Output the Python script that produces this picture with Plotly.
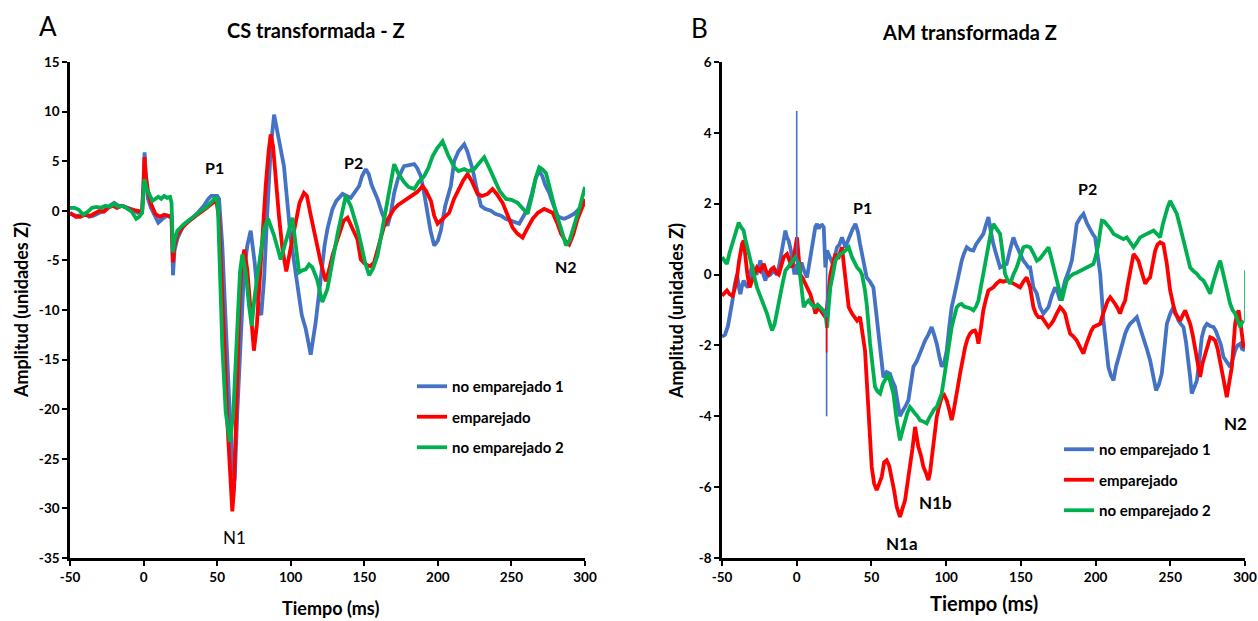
import plotly.graph_objects as go

# ---------------- Panel A: CS transformada - Z ----------------
a_blue_t = [-50, -46, -43, -40, -37, -34, -30, -27, -24, -20, -17, -14, -11, -7, -4, -1, 0, 0.7, 1.5, 3, 5, 7, 10, 13, 16, 19,
            20, 21, 23, 27, 31, 34, 38, 41, 44, 46, 50, 51.3, 53.5, 55.8, 58, 60.3, 61.9, 63.7, 66, 68.2, 70.5, 72.8,
            75.5, 78.5, 80, 81.9, 84.1, 86.5, 88.7, 91, 95.4, 100, 104.6, 107.5, 110.2, 113.6, 117, 120.4, 123, 125,
            128.4, 131, 135.2, 140.8, 143, 146.5, 148.5, 151, 153, 155, 159, 162, 165.8, 168, 170.3, 173, 177, 180,
            183.9, 186, 188.4, 191, 193, 195, 197.5, 200, 202, 205, 208.8, 211.1, 214, 217.9, 220, 223.6, 226, 229.3,
            232, 236, 239, 242.9, 246, 249.7, 252, 255.3, 258, 261, 264, 266.5, 268.9, 271, 273, 275.7, 278, 281.4,
            283.5, 285.9, 289, 292.7, 296, 300]
a_blue_v = [-0.3, -0.5, -0.5, -0.3, -0.6, -0.5, -0.2, 0.0, 0.4, 0.8, 0.5, 0.5, 0.3, 0.1, -0.2, 0.0, 3.0, 5.9, 3.5, 1.2, 0.3,
            -0.3, -1.2, -0.8, -0.5, -0.7, -6.5, -4.0, -2.8, -1.5, -1.0, -0.7, 0.0, 0.5, 1.2, 1.5, 1.5, 1.2, -3.5, -11.9,
            -18.6, -25.3, -27.2, -20.3, -11.9, -6.2, -3.5, -2.0, -5.2, -10.2, -10.5, -6.9, -0.1, 6.5, 9.7, 8.0, 4.5,
            -2.8, -7.6, -10.5, -11.9, -14.5, -11.2, -6.9, -3.5, -1.8, 0.2, 1.0, 1.7, 1.3, 1.8, 2.5, 3.5, 4.2, 3.7, 2.6,
            1.2, -0.2, -1.5, -0.3, 1.8, 3.3, 4.5, 4.6, 4.7, 4.3, 3.5, 1.5, -0.5, -2.0, -3.5, -3.0, -2.0, 0.5, 2.5, 5.0,
            6.0, 6.7, 6.0, 4.2, 2.5, 0.5, 0.2, 0.0, -0.3, -0.5, -0.8, -1.0, -1.2, -1.3, -0.6, 0.2, 1.8, 3.3, 4.0, 3.5,
            2.6, 1.8, 0.8, -0.5, -0.7, -0.8, -0.6, -0.3, 0.2, 0.7]

a_red_t = [-50, -46, -43, -40, -36, -33, -30, -27, -24, -21, -18, -15, -12, -8, -4, -1, 0, 0.6, 1.5, 3, 5, 8, 11, 14, 17, 19,
           20, 21, 23, 27, 31, 35, 39, 43, 47, 49.5, 51.3, 53, 55, 57, 59, 60.3, 61.5, 63, 65, 66.5, 68.5, 70.5, 72.5,
           75, 77, 79, 81, 83, 85, 86.4, 88, 90, 92, 94.5, 97, 99, 101.1, 103.4, 106, 109, 111, 113, 115.9, 118,
           120.4, 123.8, 126, 128.4, 131.7, 134, 136, 138.6, 141, 143.1, 145.4, 147.6, 150, 152.2, 154, 156.7, 160,
           163.5, 167, 170.3, 173, 177, 180, 183.9, 186, 189.6, 192, 195.3, 197.5, 199.8, 202, 204, 207.7, 211, 214.5,
           217, 220.2, 223, 227, 230, 233.8, 237.2, 240, 244, 247, 250.8, 254, 257.6, 260, 264.4, 268, 272.3, 275,
           278, 281, 283.7, 286.5, 289.3, 292, 295, 298, 300]
a_red_v = [-0.2, -0.6, -0.6, -0.4, -0.5, -0.3, 0.0, -0.1, 0.3, 0.5, 0.3, 0.5, 0.3, 0.1, 0.0, -0.1, 2.5, 5.4, 3.6, 2.0, 0.7,
           -0.3, -0.6, -0.4, -0.5, -0.6, -5.2, -3.5, -2.4, -1.6, -1.0, -0.6, -0.1, 0.3, 0.8, 1.0, -0.8, -6.0, -14.0,
           -21.5, -28.0, -30.3, -28.0, -20.0, -10.0, -5.5, -3.9, -6.0, -10.0, -14.1, -11.5, -6.5, -2.0, 2.5, 6.0, 7.7,
           6.5, 2.5, -0.5, -4.0, -6.1, -4.5, -2.9, -1.0, 0.8, 1.8, 1.5, 0.0, -1.8, -3.5, -5.2, -7.1, -6.0, -4.5, -2.9,
           -1.8, -1.0, -0.7, -1.5, -2.2, -2.9, -4.9, -5.3, -5.5, -5.6, -5.2, -3.5, -1.5, -0.6, 0.2, 0.6, 1.0, 1.2,
           1.7, 1.9, 2.5, 2.0, 1.0, -0.5, -1.3, -1.0, -0.6, -0.2, 1.2, 2.2, 3.0, 3.7, 3.0, 1.7, 1.5, 1.7, 2.2, 1.7,
           0.8, -0.3, -1.7, -2.3, -2.7, -2.0, -0.8, -0.2, 0.2, 0.0, -0.2, -1.2, -2.3, -3.0, -3.4, -2.4, -0.8, 0.3, 1.2]

a_green_t = [-50, -47, -44, -41, -38, -35, -32, -29, -26, -23, -20, -17, -14, -11, -8, -5, -3, -1, 0, 0.6, 2, 4, 6, 8, 10,
             12, 14, 16, 18, 19, 20, 21, 23, 27, 31, 35, 39, 43, 47, 49.5, 50.5, 51.9, 53.5, 55.8, 58.7, 61, 63.3,
             65.5, 67.1, 69.4, 71.7, 73.5, 75.5, 78.5, 81.9, 84.6, 88.7, 93.2, 95.5, 97.8, 101.1, 103.5, 105.7, 108,
             110.2, 112.5, 114.7, 117.9, 121.5, 124.9, 127, 129.5, 132, 134, 137.4, 140.8, 143, 145.4, 148, 150.5,
             153.3, 156, 159, 162, 164.6, 167.5, 170.3, 173, 177, 180, 183.9, 187, 190.7, 193.5, 196.4, 199.5, 203.2,
             207, 211.1, 214, 217.9, 221, 224.7, 228, 231.5, 235, 238.3, 242, 246.3, 250, 254.2, 257, 261, 264, 266.5,
             268.9, 271, 273.5, 276.5, 280.3, 283.5, 287.1, 289.5, 292.7, 296.5, 300]
a_green_v = [0.3, 0.3, 0.1, -0.4, -0.1, 0.3, 0.4, 0.3, 0.5, 0.4, 0.7, 0.4, 0.5, 0.2, -0.1, -0.8, -0.6, -0.2, 1.5, 3.2, 2.3,
             1.6, 1.0, 1.2, 1.4, 1.2, 1.5, 1.3, 1.4, 0.8, -4.2, -3.0, -2.0, -1.4, -0.9, -0.5, 0.0, 0.4, 1.0, 1.4, 0.5,
             -5.2, -13.6, -20.3, -23.3, -20.3, -11.9, -6.2, -4.4, -6.2, -9.6, -11.6, -8.6, -5.2, -1.8, -0.8, -2.5,
             -4.9, -3.8, -2.5, -0.7, -3.5, -6.2, -6.0, -5.9, -5.4, -5.7, -6.9, -9.2, -7.9, -6.0, -4.2, -2.2, -0.8, 1.5,
             0.5, -0.6, -1.8, -3.5, -5.2, -6.5, -5.8, -4.5, -2.0, 0.2, 2.5, 4.7, 3.8, 2.9, 2.4, 2.2, 2.9, 3.5, 4.3,
             5.5, 6.3, 7.0, 5.6, 4.4, 4.0, 4.2, 4.0, 4.2, 4.8, 5.4, 4.3, 3.2, 2.0, 1.2, 1.1, 0.8, 0.3, -0.3, 1.5, 3.3,
             4.4, 4.2, 3.8, 2.0, -0.2, -1.7, -3.5, -3.0, -1.5, 0.4, 2.4]

# ---------------- Panel B: AM transformada Z ----------------
b_blue_t = [-50, -48, -46, -44.5, -43, -41.5, -40, -38.5, -37.7, -36.5, -35.5, -34, -32.5, -31, -29.9, -28.5, -27, -25.5,
            -24.3, -23, -21, -19.5, -17.6, -15.5, -13.2, -11.5, -9.8, -8.7, -7.6, -6.5, -5.4, -4, -3.1, -1.5, -0.5, 0.6,
            2, 3.5, 5, 6.9, 8, 9.1, 10.3, 11.4, 12.5, 13.6, 14.7, 15.8, 17, 18.1, 19.2, 20.3, 21.4, 22.5, 23.6, 24.7,
            25.8, 27, 28.6, 30.3, 31.5, 32.6, 34.2, 35.9, 37.6, 39.3, 41, 42.4, 44.5, 46.8, 49, 51.3, 53, 54.6, 56.3,
            58, 60.2, 62.4, 64, 65.8, 67.5, 69.1, 70.2, 71.4, 73, 74.7, 76.4, 78.1, 80.3, 82.5, 84.2, 85.9, 88, 90.3,
            92, 93.7, 95.4, 97, 98.7, 100.4, 102, 103.7, 105.4, 107.1, 108.8, 110.4, 112, 113.8, 116, 118.2, 120,
            121.6, 123.2, 124.9, 126.6, 128.3, 130, 131.6, 134, 136.1, 138.3, 140.5, 142.8, 145, 146.7, 148.3, 150,
            151.7, 153.4, 155, 156.2, 158.4, 160.7, 162.8, 165.1, 166.8, 168.5, 170.7, 172.9, 174.6, 176.3, 178,
            179.6, 182, 184.1, 185.8, 187.4, 189.7, 191.9, 194.2, 196.4, 198, 199.7, 201.4, 203.1, 205.3, 207, 208.6,
            210.3, 212, 213.7, 215.3, 217.5, 219.8, 221.5, 223.1, 225.4, 227.6, 229.8, 232.1, 234.3, 236.5, 238.5,
            240.5, 242.4, 244.3, 246, 247.7, 250, 252.1, 253.8, 255.5, 257.1, 258.8, 260.5, 262.2, 263.3, 264.4, 266,
            267.8, 269.5, 271.1, 272.8, 274.5, 276.7, 278.9, 280.6, 282.3, 284, 285.6, 288, 290.1, 291.7, 293.4, 295,
            296.8, 298, 300]
b_blue_v = [-1.75, -1.7, -1.45, -1.0, -0.73, -0.3, 0.0, -0.4, -0.55, -0.3, -0.17, -0.3, -0.36, 0.0, 0.3, 0.1, 0.0, 0.2,
            0.4, 0.1, -0.17, 0.05, 0.0, 0.1, 0.0, 0.3, 0.77, 1.0, 1.24, 1.05, 0.96, 0.7, 0.49, 0.0, 0.3, 0.0, 0.3, 0.3,
            0.1, -0.08, 0.2, 0.49, 0.9, 1.15, 1.35, 1.43, 1.3, 1.38, 1.4, 1.33, 0.2, 0.68, 0.55, 0.49, 0.35, 0.39, 0.55,
            0.77, 0.85, 1.05, 0.9, 0.77, 0.95, 1.15, 1.3, 1.43, 1.2, 0.86, 0.45, -0.08, -0.2, -0.36, -1.0, -1.67, -2.4,
            -2.9, -2.75, -2.8, -3.0, -3.17, -3.6, -4.0, -3.9, -3.83, -3.7, -3.55, -3.0, -2.6, -2.45, -2.23, -2.0, -1.86,
            -1.7, -1.48, -1.7, -1.95, -2.3, -2.6, -2.5, -2.14, -1.5, -0.92, -0.6, -0.26, 0.1, 0.39, 0.6, 0.77, 0.7,
            0.68, 0.85, 0.96, 1.05, 1.15, 1.4, 1.62, 1.2, 0.86, 0.5, 0.2, 0.25, 0.3, 0.7, 1.05, 0.85, 0.68, 0.5, 0.39,
            0.3, 0.2, 0.2, -0.36, -0.54, -0.92, -1.1, -1.0, -0.92, -0.6, -0.36, -0.5, -0.73, -0.45, -0.17, 0.1, 0.39,
            0.9, 1.43, 1.6, 1.71, 1.45, 1.24, 1.15, 1.05, 0.5, 0.02, -1.3, -2.0, -2.61, -2.85, -2.99, -2.6, -2.33,
            -2.0, -1.67, -1.5, -1.39, -1.3, -1.2, -1.5, -1.77, -2.1, -2.42, -2.9, -3.27, -3.1, -2.8, -2.1, -1.39, -1.1,
            -0.92, -1.1, -1.3, -1.4, -1.48, -1.9, -2.42, -2.9, -3.36, -3.2, -2.99, -2.4, -1.77, -1.5, -1.39, -1.45,
            -1.48, -1.6, -1.77, -2.0, -2.33, -2.5, -2.61, -2.4, -2.14, -2.0, -1.95, -2.1, -2.14]

b_red_t = [-50, -48, -46.7, -45, -43, -41.5, -40, -38.5, -36.6, -35.5, -34.4, -33, -31.5, -29.9, -28, -26.6, -24.5, -22,
           -20.5, -18.8, -17, -15.4, -13.5, -12, -10.3, -8.7, -6.5, -4.8, -3.1, -1.9, -0.9, 0.2, 1.3, 2.4, 4, 5.8, 7.5,
           9.1, 10.8, 12.5, 14.2, 15.8, 17.5, 19.2, 20.3, 21.4, 22.5, 23.6, 24.7, 25.9, 27, 28.1, 29.2, 30.3, 31.5,
           32.6, 33.7, 34.8, 37, 38.7, 40.4, 42.4, 44, 45.7, 47.9, 50.2, 51.8, 53.5, 55.2, 56.9, 58.5, 60.2, 61.9,
           63.6, 65.2, 66.9, 68, 69.1, 70.8, 72.5, 74.1, 75.8, 77.5, 79.2, 80.3, 81.4, 83.1, 84.8, 86.5, 88.1, 89.2,
           90.3, 92, 93.7, 95.4, 97, 98.7, 100.4, 102, 103.7, 104.8, 106, 107.7, 109.3, 111, 112.7, 114.4, 116, 117.6,
           119.3, 120.5, 121.6, 123.3, 124.9, 126.6, 128.3, 130, 131.6, 133.8, 136.1, 138.3, 140.5, 142.8, 145, 147.2,
           149.5, 151.7, 153.9, 156.2, 158.4, 160, 161.7, 164, 166.2, 168.5, 170.2, 171.8, 174, 176.3, 178, 179.6,
           181.3, 183, 185.2, 187.4, 189.6, 191.9, 193.5, 195.2, 197, 198.6, 200.8, 203.1, 204.7, 206.4, 208, 209.8,
           211.5, 213.1, 214.8, 216.4, 218, 219.8, 221.5, 223.1, 224.3, 225.4, 227, 228.7, 231, 233.2, 234.8, 236.5,
           238.2, 239.9, 241.5, 243.2, 245.4, 247.7, 249.9, 251.6, 253.3, 255, 256.6, 258.3, 260, 261.6, 263.3, 265,
           266.6, 268.3, 270, 271.6, 273.3, 275, 276.7, 278.4, 280, 281.7, 283.4, 285.6, 287.8, 289.5, 291.2, 292.3,
           293.4, 294.5, 295.7, 297.4, 299, 300]
b_red_v = [-0.6, -0.5, -0.45, -0.55, -0.6, -0.4, -0.08, 0.4, 0.86, 0.96, 0.5, 0.0, -0.36, -0.17, 0.05, 0.2, 0.1, 0.3, 0.1,
           0.0, 0.15, 0.2, 0.05, 0.0, 0.25, 0.49, 0.58, 0.4, 0.2, 0.5, 0.86, 1.05, 0.5, 0.0, -0.1, -0.26, -0.4, -0.55,
           -0.8, -1.1, -0.95, -1.0, -1.1, -1.2, -0.9, -0.36, 0.0, 0.2, 0.4, 0.58, 0.5, 0.49, 0.65, 0.77, 0.3, -0.08,
           -0.5, -0.92, -1.1, -1.2, -1.3, -1.2, -1.6, -2.14, -3.74, -5.43, -5.9, -6.08, -5.9, -5.71, -5.3, -5.24, -5.4,
           -5.71, -6.1, -6.55, -6.7, -6.84, -6.6, -6.37, -5.9, -5.43, -4.9, -4.3, -4.6, -4.86, -5.1, -5.43, -5.6, -5.8,
           -5.6, -5.24, -4.6, -4.02, -3.7, -3.46, -3.4, -3.55, -3.8, -4.11, -3.9, -3.55, -3.2, -2.8, -2.4, -2.05,
           -1.8, -1.67, -1.6, -1.58, -1.7, -1.95, -1.5, -1.01, -0.7, -0.45, -0.4, -0.36, -0.25, -0.17, -0.2, -0.17,
           -0.2, -0.26, -0.3, -0.36, -0.2, -0.08, -0.36, -0.92, -1.1, -1.2, -1.2, -1.35, -1.48, -1.4, -1.3, -1.1,
           -0.92, -1.0, -1.1, -1.4, -1.67, -1.75, -1.86, -2.05, -2.23, -2.0, -1.77, -1.6, -1.48, -1.43, -1.39, -1.15,
           -0.92, -0.75, -0.64, -0.72, -0.83, -0.95, -1.1, -0.9, -0.73, -0.3, 0.11, 0.4, 0.58, 0.5, 0.39, 0.05, -0.26,
           -0.15, -0.08, 0.3, 0.68, 0.85, 0.91, 0.86, 0.3, -0.45, -0.8, -1.1, -1.2, -1.3, -1.15, -1.01, -1.2, -1.39,
           -1.7, -2.05, -2.5, -2.89, -2.5, -2.23, -1.95, -1.77, -1.8, -1.86, -2.1, -2.42, -2.95, -3.46, -3.0, -2.61,
           -2.0, -1.39, -1.15, -1.01, -1.5, -2.05, -2.0]

b_green_t = [-50, -48.5, -46.7, -45, -43.3, -41.5, -40, -38.8, -37.5, -35.5, -34.4, -33.3, -31.5, -29.9, -28.3, -26.6,
             -24.9, -23.2, -21.5, -19.9, -18.2, -16.5, -14.8, -13.2, -12, -10.9, -9.2, -7.6, -5.9, -4.2, -2.5, -0.9,
             1.4, 3, 4.7, 6.3, 8, 10, 12, 14, 15.8, 17.5, 19.2, 20.3, 21.4, 22.5, 24.2, 25.9, 27.5, 29.2, 31, 32.6,
             34.8, 37, 38.7, 40.4, 42.4, 43.7, 45.7, 47, 49.1, 50.8, 52.4, 54.1, 55.8, 57.5, 59.1, 61.3, 63, 64.7,
             66.9, 69.1, 70.8, 72.5, 74.1, 75.8, 77.5, 79.2, 80.8, 82.5, 84.8, 87, 88.6, 90.3, 92, 93.7, 95.4, 97,
             98.7, 100.4, 102, 103.7, 105.4, 107.1, 108.8, 110.4, 112, 113.8, 116, 118.2, 120, 121.6, 123.2, 124.9,
             126.6, 128.3, 130, 131.6, 133.8, 136.1, 137.8, 139.4, 141.1, 142.8, 145, 147.2, 149.5, 151.7, 154, 156.2,
             158.4, 160.7, 162.8, 165.1, 166.8, 168.5, 170.2, 171.8, 173.5, 175.2, 177.4, 179, 180.7, 183, 185.2,
             187.4, 189.7, 192, 194.1, 196.4, 198.6, 200.3, 201.9, 203, 204.2, 205.8, 207.5, 209.8, 212, 214.2, 216.4,
             218.6, 220.9, 223.1, 225.4, 227.6, 229.8, 232, 234.3, 236.5, 238.8, 241, 243.2, 244.9, 246.6, 248.2,
             249.9, 252.1, 254.4, 256.6, 258.8, 261, 263.3, 265.5, 267.8, 270, 272.2, 274.5, 276.7, 278.4, 280, 281.7,
             283.4, 285, 286.7, 288.4, 290.1, 291.7, 293.4, 295.1, 296.8, 298, 299]
b_green_v = [0.49, 0.4, 0.3, 0.6, 0.86, 1.1, 1.3, 1.47, 1.35, 1.24, 1.0, 0.77, 0.5, 0.2, -0.1, -0.36, -0.55, -0.73, -0.9,
             -1.1, -1.35, -1.58, -1.4, -1.1, -0.8, -0.55, -0.2, 0.11, 0.2, 0.3, 0.4, 0.49, 0.3, -0.4, -0.92, -0.8,
             -0.73, -0.85, -0.92, -0.85, -0.92, -1.0, -1.1, -1.5, -0.9, -0.36, 0.0, 0.39, 0.5, 0.58, 0.62, 0.68, 0.77,
             0.49, 0.35, 0.2, 0.11, 0.0, -0.45, -0.9, -1.95, -2.6, -3.17, -3.3, -3.36, -3.1, -2.99, -2.8, -3.1, -3.36,
             -4.11, -4.68, -4.4, -4.11, -3.9, -3.74, -3.85, -3.92, -4.0, -4.11, -4.15, -4.2, -4.05, -3.92, -3.8, -3.74,
             -3.55, -3.36, -2.9, -2.42, -1.95, -1.48, -1.2, -0.92, -0.85, -0.83, -0.9, -0.92, -0.95, -1.01, -0.9,
             -0.73, -0.35, 0.02, 0.45, 0.86, 1.2, 1.43, 1.3, 1.15, 0.6, 0.02, -0.15, -0.26, 0.0, 0.2, 0.5, 0.77, 0.8,
             0.77, 0.6, 0.39, 0.45, 0.58, 0.7, 0.77, 0.5, 0.2, -0.1, -0.36, -0.73, -0.45, -0.17, -0.05, 0.02, 0.05,
             0.11, 0.15, 0.2, 0.25, 0.3, 0.55, 0.86, 1.2, 1.52, 1.5, 1.43, 1.3, 1.15, 1.1, 1.05, 1.0, 1.05, 0.9, 0.77,
             0.9, 1.05, 1.1, 1.15, 1.2, 1.24, 1.15, 1.05, 1.4, 1.71, 1.9, 2.08, 1.9, 1.71, 1.35, 0.96, 0.6, 0.2, 0.1,
             0.02, -0.1, -0.17, -0.35, -0.54, -0.25, 0.02, 0.2, 0.39, 0.1, -0.17, -0.5, -0.83, -1.0, -1.1, -1.3,
             -1.48, -1.35, -1.3]

# Brief single-sample artefacts drawn as thin strokes
b_blue_art_t = [0, 0, None, 20, 20]
b_blue_art_v = [0.3, 4.62, None, 0.6, -4.0]
b_red_art_t = [20, 20]
b_red_art_v = [-1.2, -2.2]
b_green_art_t = [300, 300]
b_green_art_v = [-1.3, 0.12]

series_names = ["no emparejado 1", "emparejado", "no emparejado 2"]
series_colors = ["#4472C4", "#FF0000", "#00B050"]

a_ticks_y = [-35, -30, -25, -20, -15, -10, -5, 0, 5, 10, 15]
b_ticks_y = [-8, -6, -4, -2, 0, 2, 4, 6]
ticks_x = [-50, 0, 50, 100, 150, 200, 250, 300]

W, H = 1258, 621
FONT = "Lato"
LW_A = 3.8
LW_B = 3.8

fig = go.Figure()

a_data = [(a_blue_t, a_blue_v), (a_red_t, a_red_v), (a_green_t, a_green_v)]
b_data = [(b_blue_t, b_blue_v), (b_red_t, b_red_v), (b_green_t, b_green_v)]

for i, (t, v) in enumerate(a_data):
    fig.add_trace(go.Scatter(x=t, y=v, mode="lines", name=series_names[i],
                             line=dict(color=series_colors[i], width=LW_A),
                             xaxis="x", yaxis="y", legend="legend",
                             legendgroup="a%d" % i))

for i, (t, v) in enumerate(b_data):
    fig.add_trace(go.Scatter(x=t, y=v, mode="lines", name=series_names[i],
                             line=dict(color=series_colors[i], width=LW_B),
                             xaxis="x2", yaxis="y2", legend="legend2",
                             legendgroup="b%d" % i))

for (t, v), c in zip([(b_blue_art_t, b_blue_art_v), (b_red_art_t, b_red_art_v),
                      (b_green_art_t, b_green_art_v)], series_colors):
    fig.add_trace(go.Scatter(x=t, y=v, mode="lines", showlegend=False,
                             line=dict(color=c, width=1.6),
                             xaxis="x2", yaxis="y2"))


def px(x):
    return x / W


def py(y):
    return 1 - y / H


def tick_text(vals):
    # plain hyphen-minus for negative labels
    return [str(v) for v in vals]


ydom = [py(558), py(62)]
axis_common = dict(showline=True, linecolor="black", linewidth=2.5, ticks="outside",
                   ticklen=5, tickwidth=2, tickcolor="black", showgrid=False, zeroline=False,
                   automargin=False,
                   tickfont=dict(family=FONT, size=13.5, color="black", weight="bold"),
                   fixedrange=True)

fig.update_layout(
    width=W, height=H, margin=dict(l=0, r=0, t=0, b=0, pad=0, autoexpand=False),
    paper_bgcolor="white", plot_bgcolor="white",
    font=dict(family=FONT, color="black"),
    xaxis=dict(domain=[px(70), px(585)], range=[-50, 300], tickvals=ticks_x,
               ticktext=tick_text(ticks_x), anchor="y", **axis_common),
    yaxis=dict(domain=ydom, range=[-35, 15], tickvals=a_ticks_y, ticktext=tick_text(a_ticks_y),
               anchor="x", **axis_common),
    xaxis2=dict(domain=[px(722), px(1245)], range=[-50, 300], tickvals=ticks_x,
                ticktext=tick_text(ticks_x), anchor="y2", **axis_common),
    yaxis2=dict(domain=ydom, range=[-8, 6], tickvals=b_ticks_y, ticktext=tick_text(b_ticks_y),
                anchor="x2", **axis_common),
    legend=dict(x=px(412), y=py(370), xanchor="left", yanchor="top",
                bgcolor="rgba(0,0,0,0)", tracegroupgap=8,
                font=dict(family=FONT, size=15, color="black", weight="bold")),
    legend2=dict(x=px(1059), y=py(433), xanchor="left", yanchor="top",
                 bgcolor="rgba(0,0,0,0)", tracegroupgap=8,
                 font=dict(family=FONT, size=15, color="black", weight="bold")),
    showlegend=True,
)

annotations = []


def label(text, x, y, size, bold=True, angle=0, xref="paper", yref="paper"):
    annotations.append(dict(text=text, x=x, y=y, xref=xref, yref=yref, showarrow=False,
                            xanchor="center", yanchor="middle", textangle=angle,
                            font=dict(family=FONT, size=size, color="black",
                                      weight="bold" if bold else "normal")))


# panel letters and titles
label("A", px(48), py(26), 26, bold=False)
label("CS transformada - Z", px(316), py(30), 20)
label("B", px(699), py(28), 26, bold=False)
label("AM transformada Z", px(969), py(32), 20)

# axis titles
label("Tiempo (ms)", px(330), py(608), 18)
label("Amplitud (unidades Z)", px(21), py(310), 18, angle=-90)
label("Tiempo (ms)", px(984), py(603), 20)
label("Amplitud (unidades Z)", px(676), py(311), 18, angle=-90)

# component labels, placed in data coordinates
label("P1", 48.3, 4.4, 16, xref="x", yref="y")
label("N1", 61.9, -32.9, 17, bold=False, xref="x", yref="y")
label("P2", 142.9, 4.9, 16, xref="x", yref="y")
label("N2", 287, -5.6, 16, xref="x", yref="y")

label("P1", 43.7, 1.89, 16, xref="x2", yref="y2")
label("P2", 194.3, 2.42, 16, xref="x2", yref="y2")
label("N1b", 93.2, -6.42, 17, xref="x2", yref="y2")
label("N1a", 70.5, -7.58, 17, xref="x2", yref="y2")
label("N2", 293.4, -4.2, 17, xref="x2", yref="y2")

fig.update_layout(annotations=annotations)

fig.write_html("out.html")
